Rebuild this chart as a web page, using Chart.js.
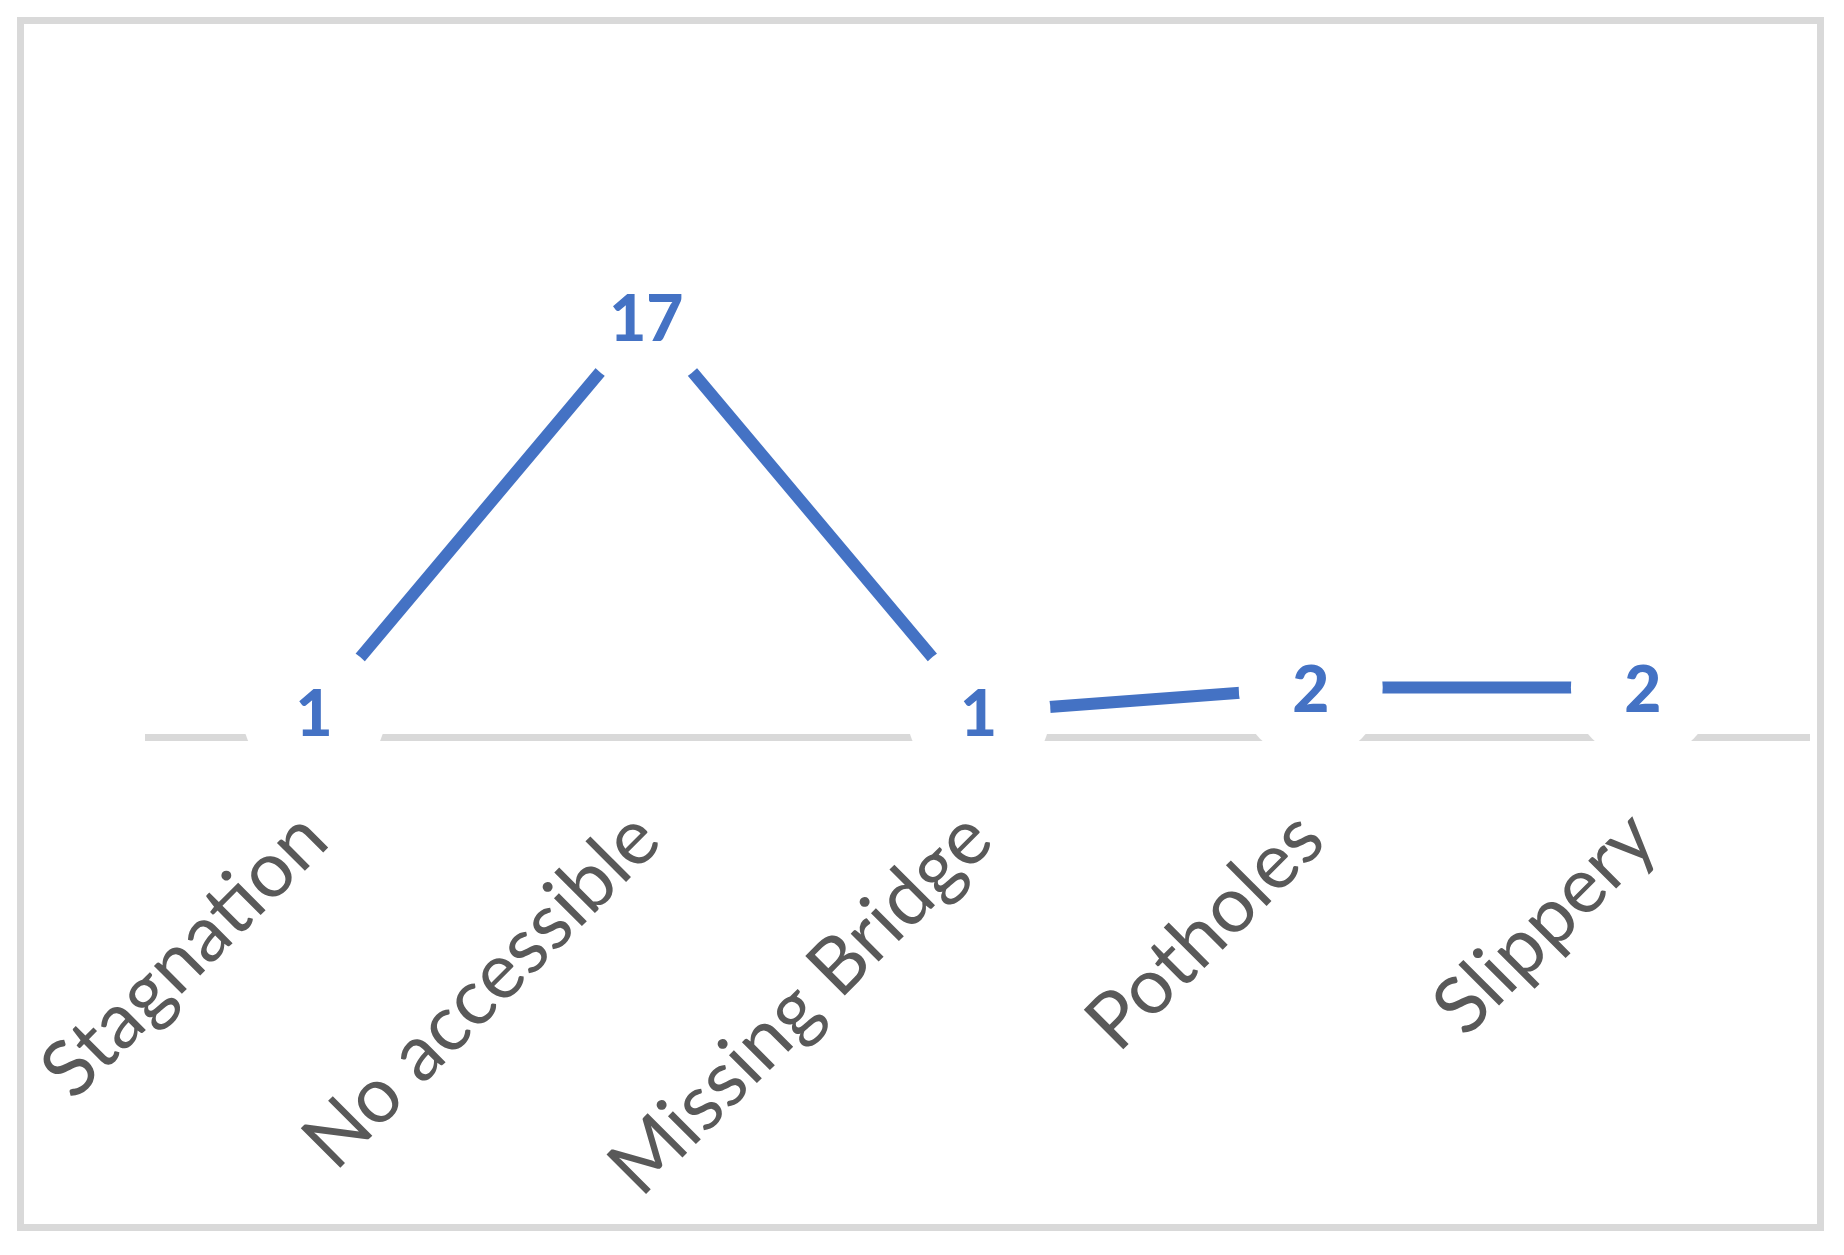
<!DOCTYPE html>
<html>
<head>
<meta charset="utf-8">
<script src="https://cdn.jsdelivr.net/npm/chart.js@4/dist/chart.umd.min.js"></script>
<style>
  html, body { margin: 0; padding: 0; background: #ffffff; }
  canvas { display: block; }
</style>
</head>
<body>
<canvas id="c" width="1844" height="1255"></canvas>
<script>
const categories = ["Stagnation", "No accessible", "Missing Bridge", "Potholes", "Slippery"];
const counts = [1, 17, 1, 2, 2];
const yMin = 0;
const yMax = 20;

const LINE_BLUE = "#4472C4";
const AXIS_GREY = "#D9D9D9";
const TEXT_GREY = "#595959";

const frame = {
  id: "frame",
  beforeDraw(chart) {
    const ctx = chart.ctx;
    ctx.save();
    ctx.fillStyle = "#ffffff";
    ctx.fillRect(0, 0, chart.width, chart.height);
    ctx.strokeStyle = AXIS_GREY;
    ctx.lineWidth = 7;
    ctx.strokeRect(20.5, 20.5, 1800, 1207);
    ctx.restore();
  }
};

const valueLabels = {
  id: "valueLabels",
  afterDatasetsDraw(chart) {
    const ctx = chart.ctx;
    const meta = chart.getDatasetMeta(0);
    ctx.save();
    ctx.font = "900 64px Lato";
    ctx.fillStyle = LINE_BLUE;
    ctx.textAlign = "center";
    ctx.textBaseline = "alphabetic";
    meta.data.forEach((pt, i) => {
      const txt = String(chart.data.datasets[0].data[i]);
      const m = ctx.measureText(txt);
      ctx.fillText(txt, pt.x, pt.y + m.actualBoundingBoxAscent / 2);
    });
    ctx.restore();
  }
};

new Chart(document.getElementById("c"), {
  type: "line",
  data: {
    labels: categories,
    datasets: [{
      data: counts,
      borderColor: LINE_BLUE,
      borderWidth: 12,
      tension: 0,
      fill: false,
      pointRadius: 72,
      pointHoverRadius: 72,
      pointBackgroundColor: "#ffffff",
      pointBorderColor: "#ffffff",
      pointBorderWidth: 0,
      clip: false
    }]
  },
  options: {
    responsive: false,
    devicePixelRatio: 1,
    animation: false,
    events: [],
    layout: { autoPadding: false, padding: { left: 148, right: 35, top: 243, bottom: 0 } },
    plugins: { legend: { display: false }, tooltip: { enabled: false } },
    scales: {
      x: {
        offset: true,
        grid: { display: true, color: "rgba(0,0,0,0)", drawTicks: false, drawOnChartArea: false },
        border: { display: true, color: AXIS_GREY, width: 7 },
        ticks: {
          color: TEXT_GREY,
          font: { family: "Lato", size: 78 },
          minRotation: 45,
          maxRotation: 45,
          padding: 56,
          autoSkip: false
        },
        afterFit(scale) {
          scale.height = 518;
          scale.paddingLeft = 0;
          scale.paddingRight = 0;
        }
      },
      y: {
        display: false,
        min: yMin,
        max: yMax
      }
    }
  },
  plugins: [frame, valueLabels]
});
</script>
</body>
</html>
